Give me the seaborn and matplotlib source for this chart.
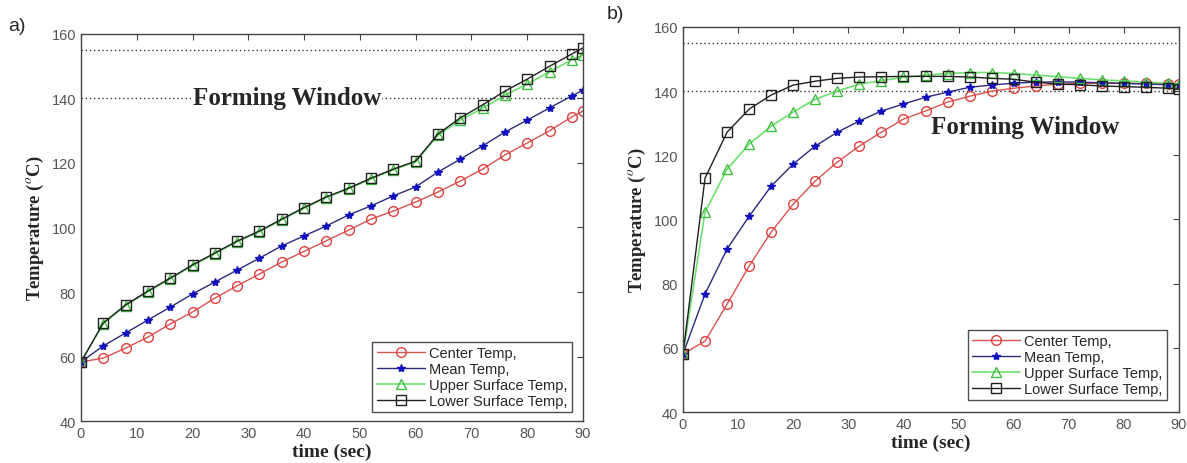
import matplotlib
matplotlib.use('Agg')
import matplotlib.pyplot as plt
import pandas as pd
import seaborn as sns

# time axis (sec), shared by both panels
time_sec = [0, 4, 8, 12, 16, 20, 24, 28, 32, 36, 40, 44, 48, 52, 56, 60, 64, 68, 72, 76, 80, 84, 88, 90]

# panel a)
center_a = [58.3, 59.5, 62.6, 66.0, 70.1, 73.8, 78.1, 81.9, 85.6, 89.3, 92.6, 95.9,
            99.2, 102.6, 105.1, 107.9, 111.0, 114.4, 118.1, 122.5, 126.2, 130.0, 134.3, 136.1]
mean_a = [58.3, 63.3, 67.3, 71.3, 75.3, 79.4, 83.1, 86.8, 90.5, 94.3, 97.4, 100.5,
          103.9, 106.7, 109.8, 112.6, 117.2, 121.2, 125.3, 129.6, 133.3, 137.1, 140.8, 142.6]
upper_a = [58.3, 70.2, 75.8, 80.1, 84.1, 88.2, 91.9, 95.6, 98.7, 102.4, 106.0, 109.3,
           112.0, 115.1, 117.9, 120.4, 128.6, 133.3, 137.0, 141.0, 144.5, 148.3, 152.0, 153.5]
lower_a = [58.3, 70.4, 76.0, 80.3, 84.3, 88.4, 92.1, 95.8, 98.9, 102.6, 106.2, 109.5,
           112.2, 115.3, 118.1, 120.6, 129.0, 134.0, 138.0, 142.3, 146.0, 150.0, 153.8, 155.7]

# panel b)
center_b = [58.1, 62.1, 73.6, 85.5, 96.1, 104.8, 112.0, 117.9, 122.9, 127.2, 131.3, 133.8,
            136.6, 138.4, 140.0, 140.9, 141.6, 142.2, 142.4, 142.5, 142.5, 142.4, 142.3, 142.2]
mean_b = [58.1, 76.8, 90.8, 101.0, 110.4, 117.3, 122.9, 127.2, 130.7, 133.8, 136.0, 138.1,
          139.7, 141.2, 141.9, 142.5, 142.8, 142.9, 142.8, 142.6, 142.4, 142.2, 142.0, 141.9]
upper_b = [58.1, 102.3, 115.7, 123.5, 129.1, 133.5, 137.5, 140.0, 142.2, 143.3, 144.3, 145.0,
           145.5, 145.8, 145.8, 145.5, 145.0, 144.5, 144.0, 143.5, 143.2, 142.8, 142.5, 142.3]
lower_b = [58.1, 112.9, 127.2, 134.4, 138.8, 141.9, 143.1, 144.0, 144.4, 144.5, 144.6, 144.6,
           144.6, 144.4, 144.0, 143.7, 142.8, 142.2, 142.0, 141.6, 141.4, 141.2, 140.9, 140.6]

window_limits = [140, 155]
labels = ['Center Temp,', 'Mean Temp,', 'Upper Surface Temp,', 'Lower Surface Temp,']

sns.set_style('white')
plt.rcParams['mathtext.fontset'] = 'stix'

styles = [
    dict(color='#d9534f', marker='o', mfc='none', mec='#e04040', ms=7, lw=1.0),
    dict(color='#2a2a7a', marker='*', mfc='#1010c0', mec='#1010c0', ms=6, lw=1.0),
    dict(color='#6fe06f', marker='^', mfc='none', mec='#40c040', ms=7, lw=1.2),
    dict(color='#202020', marker='s', mfc='none', mec='#202020', ms=7, lw=1.0),
]

fig = plt.figure(figsize=(11.87, 4.64), dpi=100)
ax_a = fig.add_axes([0.0682, 0.0905, 0.4230, 0.8341])
ax_b = fig.add_axes([0.5754, 0.1099, 0.4179, 0.8298])


def draw_panel(ax, series, text_xy, text_box, legend_anchor):
    for ys, lab, st in zip(series, labels, styles):
        df = pd.DataFrame({'t': time_sec, 'T': ys})
        sns.lineplot(data=df, x='t', y='T', ax=ax, label=lab, color=st['color'],
                     linewidth=st['lw'], marker=st['marker'], markersize=st['ms'],
                     markerfacecolor=st['mfc'], markeredgecolor=st['mec'],
                     markeredgewidth=1.0)
    for lim in window_limits:
        ax.axhline(lim, color='#333333', linestyle=(0, (1, 2)), linewidth=1.0, zorder=0)
    bbox = dict(facecolor='white', edgecolor='none', pad=1) if text_box else None
    ax.text(text_xy[0], text_xy[1], 'Forming Window', family='Liberation Serif',
            fontweight='bold', fontsize=18, ha='left', va='center', bbox=bbox, zorder=1)
    ax.set_xlim(0, 90)
    ax.set_ylim(40, 160)
    ax.set_xticks(range(0, 91, 10))
    ax.set_yticks(range(40, 161, 20))
    ax.tick_params(direction='in', length=4, top=True, right=True, labelsize=10.5,
                   labelcolor='#555555', color='#444444', width=0.8)
    for lbl in ax.get_xticklabels() + ax.get_yticklabels():
        lbl.set_family('Liberation Sans')
    for sp in ax.spines.values():
        sp.set_color('#444444')
        sp.set_linewidth(1.0)
    ax.set_xlabel('time (sec)', family='Liberation Serif', fontweight='bold', fontsize=14, labelpad=2)
    ax.set_ylabel(r'Temperature ($^{o}$C)', family='Liberation Serif', fontweight='bold',
                  fontsize=13.5, labelpad=4)
    leg = ax.legend(loc='lower right', bbox_to_anchor=legend_anchor, frameon=True, fancybox=False,
                    prop={'family': 'Liberation Sans', 'size': 10.5}, handlelength=3.3,
                    labelspacing=0.12, borderpad=0.3, handletextpad=0.3, borderaxespad=0)
    leg.get_frame().set_edgecolor('#222222')
    leg.get_frame().set_linewidth(1.0)


draw_panel(ax_a, [center_a, mean_a, upper_a, lower_a], (20.0, 140.2), True, (0.978, 0.023))
draw_panel(ax_b, [center_b, mean_b, upper_b, lower_b], (45.0, 129.0), False, (0.976, 0.031))

fig.text(0.007, 0.942, 'a)', family='Liberation Sans', fontsize=14, va='center')
fig.text(0.511, 0.968, 'b)', family='Liberation Sans', fontsize=14, va='center')

fig.savefig('out.png', dpi=100)
